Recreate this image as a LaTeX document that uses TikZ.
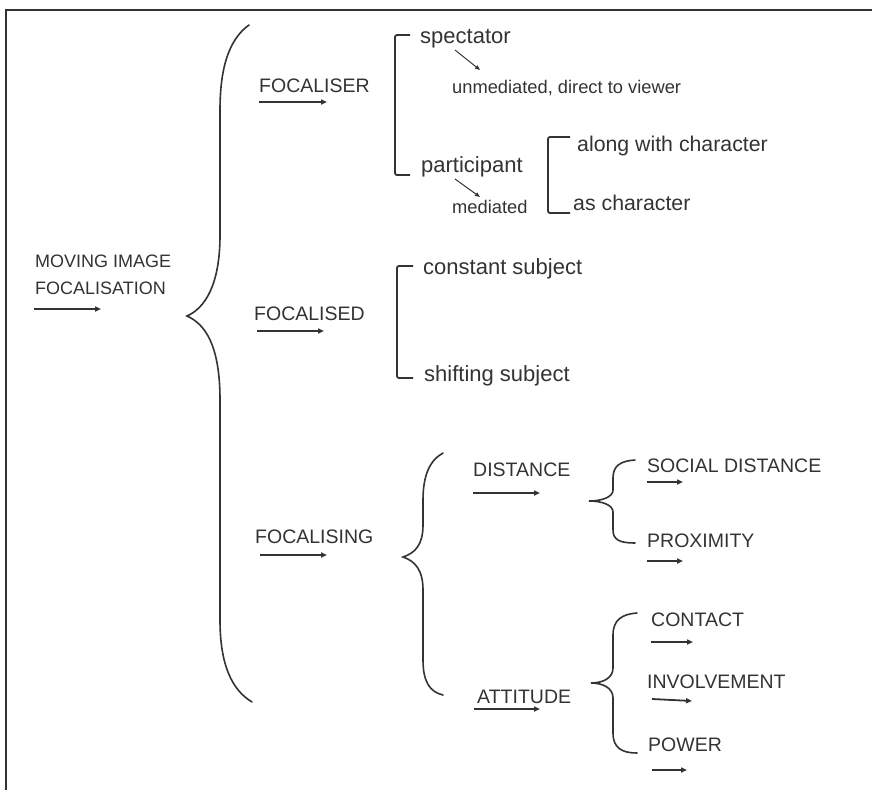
\documentclass[tikz,border=0pt]{standalone}
\usepackage{fontspec}
\setmainfont{Liberation Sans}
\usetikzlibrary{arrows.meta}
\definecolor{ink}{HTML}{333333}
\tikzset{
  lbl/.style={inner sep=0pt, anchor=base west, text=ink, font=\fontsize{22}{24}\selectfont},
  capslbl/.style={inner sep=0pt, anchor=base west, text=ink, font=\fontsize{19.5}{22}\selectfont},
  note/.style={inner sep=0pt, anchor=base west, text=ink, font=\fontsize{18.3}{20}\selectfont},
  arr/.style={draw=ink, line width=1.8pt, -{Triangle[length=6pt,width=5pt]}},
  thinarr/.style={draw=ink, line width=1pt, -{Triangle[length=5pt,width=4pt]}},
  brace/.style={draw=ink, line width=1.6pt, line cap=round},
  bracket/.style={draw=ink, line width=1.8pt, rounded corners=2pt},
}
\begin{document}
\begin{tikzpicture}[x=1pt,y=-1pt]
\useasboundingbox (0,0) rectangle (872,790);
% open frame: top and left edges
\draw[ink, line width=2.2pt] (872,10) -- (6,10) -- (6,790);

% labels
\node[capslbl, font=\fontsize{18}{27}\selectfont, align=left] (mif) at (35,294) {MOVING IMAGE\\FOCALISATION};
\node[capslbl] (focaliser) at (259,92) {FOCALISER};
\node[capslbl] (focalised) at (254,320) {FOCALISED};
\node[capslbl] (focalising) at (255,543) {FOCALISING};
\node[lbl] (spectator) at (420,43) {spectator};
\node[note] (unmediated) at (452,93) {unmediated, direct to viewer};
\node[lbl] (participant) at (421,172) {participant};
\node[note] (mediated) at (452,213) {mediated};
\node[lbl, font=\fontsize{21.3}{24}\selectfont] (along) at (577,151) {along with character};
\node[lbl, font=\fontsize{21.3}{24}\selectfont] (ascharacter) at (573,210) {as character};
\node[lbl] (constant) at (423,274) {constant subject};
\node[lbl] (shifting) at (424,381) {shifting subject};
\node[capslbl] (distance) at (473,476) {DISTANCE};
\node[capslbl] (attitude) at (477,703) {ATTITUDE};
\node[capslbl] (social) at (647,472) {SOCIAL DISTANCE};
\node[capslbl] (proximity) at (647,547) {PROXIMITY};
\node[capslbl] (contact) at (651,626) {CONTACT};
\node[capslbl] (involvement) at (647,688) {INVOLVEMENT};
\node[capslbl] (power) at (648,751) {POWER};

% arrows under the labels
\draw[arr] (mif.base west) ++(-1,15) -- ++(67,0);
\draw[arr] (focaliser.base west) ++(0,10) -- ++(68,0);
\draw[arr] (focalised.base west) ++(3,11) -- ++(67,0);
\draw[arr] (focalising.base west) ++(5,12) -- ++(67,0);
\draw[arr] (distance.base west) ++(0,17) -- ++(67,0);
\draw[arr] (attitude.base west) ++(-3,6) -- ++(66,0);
\draw[arr] (social.base west) ++(0,10) -- ++(36,0);
\draw[arr] (proximity.base west) ++(0,14) -- ++(36,0);
\draw[arr] (contact.base west) ++(0,16) -- ++(42,0);
\draw[arr] (involvement.base west) ++(5,11) -- ++(40,2);
\draw[arr] (power.base west) ++(4,19) -- ++(35,0);

% small arrows to the glosses
\coordinate (specfrom) at (455,50);
\coordinate (specto) at (480,70);
\coordinate (partfrom) at (455,179);
\coordinate (partto) at (480,197);
\draw[thinarr] (specfrom) -- (specto);
\draw[thinarr] (partfrom) -- (partto);

% square brackets
\draw[bracket] (410,35) -- (395,35) -- (395,175) -- (410,175);
\draw[bracket] (570,137) -- (548,137) -- (548,213) -- (570,213);
\draw[bracket] (413,266) -- (397,266) -- (397,378) -- (413,378);

% curly braces
\draw[brace] (249,25) .. controls (228,40) and (220,70) .. (220,110) -- (220,235)
  .. controls (220,285) and (205,308) .. (187,316)
  .. controls (205,324) and (220,345) .. (220,400) -- (220,620)
  .. controls (220,665) and (232,690) .. (252,702);
\draw[brace] (443,453) .. controls (430,460) and (423,475) .. (423,500) -- (423,525)
  .. controls (423,545) and (415,553) .. (403,557)
  .. controls (415,561) and (423,570) .. (423,590) -- (423,660)
  .. controls (423,682) and (430,692) .. (443,695);
\draw[brace] (635,460) .. controls (620,461) and (613,466) .. (613,478) -- (613,490)
  .. controls (613,497) and (602,501) .. (589,501)
  .. controls (602,501) and (613,505) .. (613,512) -- (613,530)
  .. controls (613,540) and (620,543) .. (635,543);
\draw[brace] (637,613) .. controls (622,614) and (613,620) .. (613,635) -- (613,668)
  .. controls (613,678) and (603,683) .. (591,683)
  .. controls (603,683) and (613,688) .. (613,698) -- (613,733)
  .. controls (613,748) and (622,753) .. (637,753);
\end{tikzpicture}
\end{document}
